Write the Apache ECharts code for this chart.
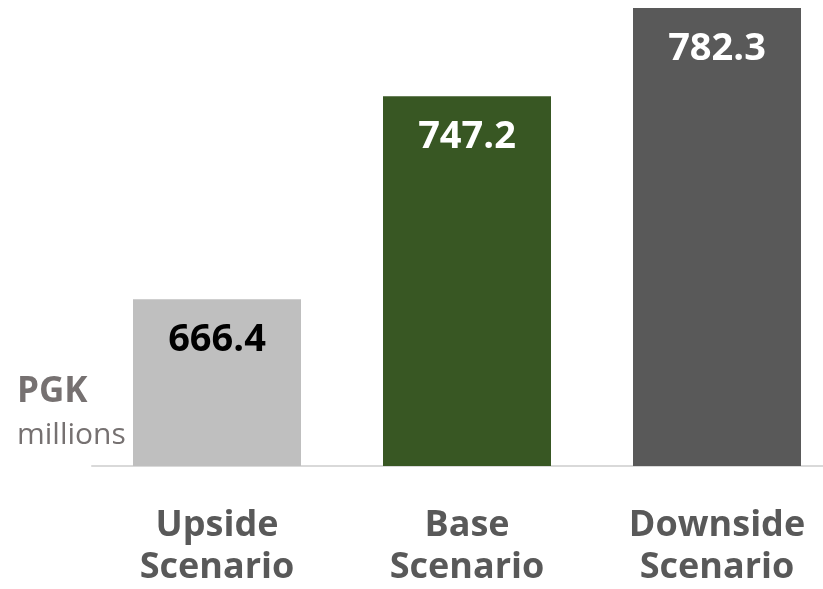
<!DOCTYPE html>
<html>
<head>
<meta charset="utf-8">
<script src="https://cdn.jsdelivr.net/npm/echarts@6/dist/echarts.min.js"></script>
<style>
html,body{margin:0;padding:0;background:#fff;overflow:hidden;width:823px;height:589px;}
#chart{width:842px;height:589px;}
</style>
</head>
<body>
<div id="chart"></div>
<script>
const categories = ['Upside\nScenario', 'Base\nScenario', 'Downside\nScenario'];
const values = [666.4, 747.2, 782.3];
const unitMain = 'PGK';
const unitSub = 'millions';

const barColors = ['#bfbfbf', '#385723', '#595959'];
const labelColors = ['#000000', '#ffffff', '#ffffff'];

const chart = echarts.init(document.getElementById('chart'), null, {renderer: 'canvas'});
chart.setOption({
  animation: false,
  grid: {left: 92, top: 8, width: 750, height: 465, containLabel: false},
  xAxis: {
    type: 'category',
    data: categories,
    axisLine: {show: true, lineStyle: {color: '#d9d9d9', width: 2}},
    axisTick: {show: false},
    axisLabel: {
      interval: 0,
      fontFamily: 'Open Sans',
      fontWeight: 'bold',
      fontSize: 36,
      lineHeight: 42,
      color: '#595959',
      margin: 39
    }
  },
  yAxis: {
    type: 'value',
    min: 600,
    max: 782.3,
    show: false,
    splitLine: {show: false}
  },
  graphic: [
    {type: 'text', left: 17, top: 375, style: {text: unitMain, fontFamily: 'Open Sans', fontWeight: 'bold', fontSize: 35, fill: '#767171'}},
    {type: 'text', left: 17, top: 420, style: {text: unitSub, fontFamily: 'Open Sans', fontSize: 30, fill: '#767171'}}
  ],
  series: [{
    type: 'bar',
    barWidth: 168,
    data: values.map((v, i) => ({
      value: v,
      itemStyle: {color: barColors[i]},
      label: {color: labelColors[i]}
    })),
    label: {
      show: true,
      position: 'insideTop',
      distance: 22,
      fontFamily: 'Open Sans',
      fontWeight: 'bold',
      fontSize: 38,
      formatter: p => p.value.toFixed(1)
    }
  }]
});
</script>
</body>
</html>
